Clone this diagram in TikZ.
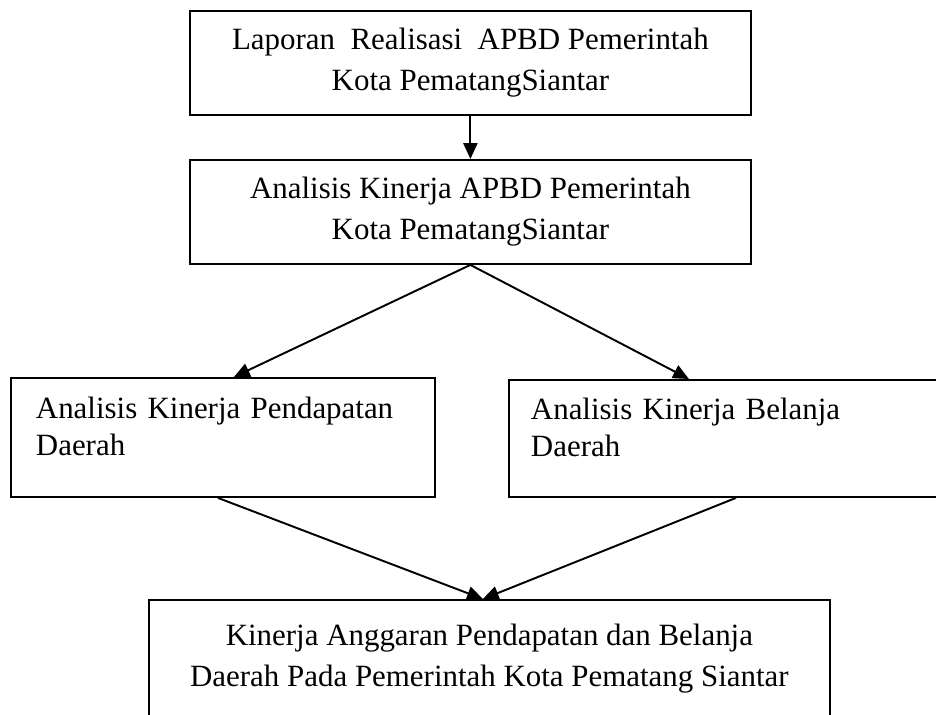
\documentclass[tikz,border=0pt]{standalone}
\usepackage{fontspec}
\setmainfont{Liberation Serif}
\usetikzlibrary{arrows.meta}
\begin{document}
\begin{tikzpicture}[x=0.02cm, y=-0.02cm,
  box/.style={draw, line width=1.1pt, inner sep=0pt, anchor=north west,
    font=\fontsize{17.6}{23.3}\selectfont},
  leftbox/.style={box, align=left, font=\fontsize{17.6}{21}\selectfont},
  arr/.style={line width=1.1pt, -{Triangle[length=9pt, width=8pt]}}]
\useasboundingbox (0,0) rectangle (936,715);
\clip (0,0) rectangle (936,715);

\node[box, minimum width=11.22cm, minimum height=2.08cm, align=center] (lap) at (189,10)
  {Laporan\ \ Realisasi\ \ APBD Pemerintah\\Kota PematangSiantar};
\node[box, minimum width=11.22cm, minimum height=2.08cm, align=center] (ana) at (189,159)
  {Analisis Kinerja APBD Pemerintah\\Kota PematangSiantar};
\node[leftbox, minimum width=8.48cm, minimum height=2.38cm, text width=7.48cm] (pend) at (10,377)
  {Analisis Kinerja Pendapatan\\Daerah\rule[-0.46cm]{0pt}{0pt}};
\node[leftbox, minimum width=8.64cm, minimum height=2.34cm, text width=7.76cm] (bel) at (508,379)
  {Analisis Kinerja Belanja\\Daerah\rule[-0.46cm]{0pt}{0pt}};
\node[box, minimum width=13.62cm, minimum height=2.36cm, align=center] (kin) at (148,599)
  {Kinerja Anggaran Pendapatan dan Belanja\\Daerah Pada Pemerintah Kota Pematang Siantar};

\draw[arr] (lap.south) -- (ana.north);
\draw[arr] (ana.south) -- ([xshift=0.22cm]pend.north);
\draw[arr] (ana.south) -- ([xshift=-0.72cm]bel.north);
\draw[arr] ([xshift=-0.1cm]pend.south) -- ([xshift=-0.13cm]kin.north);
\draw[arr] ([xshift=0.22cm]bel.south) -- ([xshift=-0.13cm]kin.north);
\end{tikzpicture}
\end{document}
